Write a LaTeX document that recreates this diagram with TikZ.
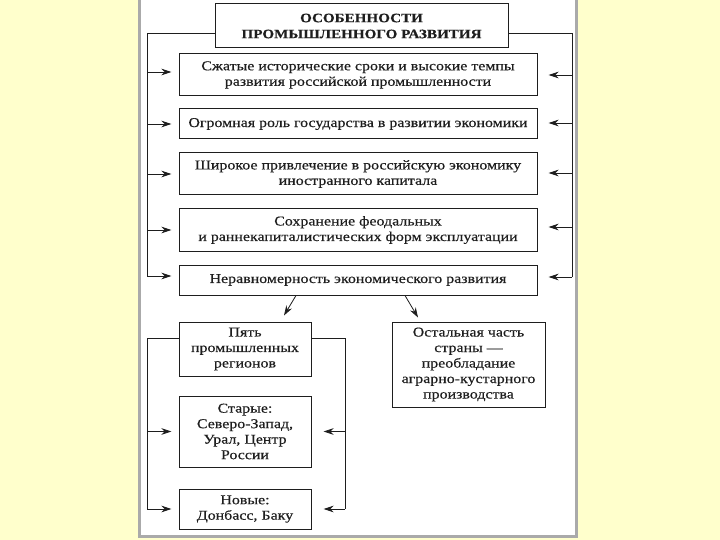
\documentclass[tikz,border=0pt]{standalone}
\usepackage{fontspec}
\setmainfont[FakeStretch=1.18,FakeBold=0.4]{Liberation Serif}
\usetikzlibrary{arrows.meta,calc}
\definecolor{bgyellow}{RGB}{255,255,204}
\definecolor{panelgrey}{RGB}{170,170,170}
\definecolor{inkc}{RGB}{30,30,30}
\tikzset{
  box/.style={draw=inkc, line width=1pt, fill=white, inner sep=0pt, align=center,
    font=\fontsize{13.5}{15.5}\selectfont, text=inkc},
  conn/.style={draw=inkc, line width=0.8pt},
  arr/.style={conn, -{Stealth[length=10pt,width=6.5pt]}},
}
\begin{document}
\begin{tikzpicture}[x=1pt,y=-1pt]
\useasboundingbox (0,0) rectangle (720,540);
\fill[bgyellow] (0,0) rectangle (720,540);
\draw[panelgrey, line width=3pt, fill=white] (139,-2) rectangle (576,536);

% title
\node[box, minimum width=293pt, minimum height=44pt,
      font=\fontsize{12.8}{16}\selectfont\bfseries] (title) at (361.5,26)
  {ОСОБЕННОСТИ\\ПРОМЫШЛЕННОГО РАЗВИТИЯ};

% feature boxes
\node[box, minimum width=358pt, minimum height=42pt] (b1) at (358,75)
  {Сжатые исторические сроки и высокие темпы\\развития российской промышленности};
\node[box, minimum width=358pt, minimum height=30pt] (b2) at (358,124)
  {Огромная роль государства в развитии экономики};
\node[box, minimum width=358pt, minimum height=42pt] (b3) at (358,174)
  {Широкое привлечение в российскую экономику\\иностранного капитала};
\node[box, minimum width=358pt, minimum height=42pt] (b4) at (358,230)
  {Сохранение феодальных\\и раннекапиталистических форм эксплуатации};
\node[box, minimum width=358pt, minimum height=30pt] (b5) at (358,280)
  {Неравномерность экономического развития};

% lower boxes
\node[box, minimum width=132pt, minimum height=54pt] (p5) at (245,349)
  {Пять\\промышленных\\регионов};
\node[box, minimum width=153pt, minimum height=85pt] (ost) at (468.5,364.5)
  {Остальная часть\\страны —\\преобладание\\аграрно-кустарного\\производства};
\node[box, minimum width=132pt, minimum height=71pt] (old) at (245,431.5)
  {Старые:\\Северо-Запад,\\Урал, Центр\\России};
\node[box, minimum width=132pt, minimum height=40pt] (new) at (245,509)
  {Новые:\\Донбасс, Баку};

% outer loops
\coordinate (L0) at (147,33);
\coordinate (R0) at (572,33);
\draw[conn] (title.west |- L0) -- (L0) -- (L0 |- {$(b5.west)+(0,-4)$});
\draw[conn] (title.east |- R0) -- (R0) -- (R0 |- {$(b5.east)+(0,-3)$});
\foreach \b/\dy in {b1/-3,b2/0,b3/0,b4/0,b5/-4}{
  \draw[arr, shorten >=7pt] (L0 |- {$(\b.west)+(0,\dy)$}) -- ($(\b.west)+(0,\dy)$);
}
\foreach \b/\dy in {b1/0,b2/-1,b3/-1,b4/-3,b5/-3}{
  \draw[arr, shorten >=11pt] (R0 |- {$(\b.east)+(0,\dy)$}) -- ($(\b.east)+(0,\dy)$);
}

% split arrows
\draw[arr] ($(b5.south)+(-62,0)$) -- ($(p5.north)+(39,-6)$);
\draw[arr] ($(b5.south)+(47,0)$) -- ($(ost.north)+(-50.5,-4)$);

% region loops
\coordinate (PL) at (147,338);
\coordinate (PR) at (345,338);
\draw[conn] (p5.west |- PL) -- (PL) -- (PL |- new.west);
\draw[conn] (p5.east |- PR) -- (PR) -- (PR |- new.east);
\draw[arr, shorten >=7pt] (PL |- old.west) -- (old.west);
\draw[arr, shorten >=7pt] (PL |- new.west) -- (new.west);
\draw[arr, shorten >=12pt] (PR |- old.east) -- (old.east);
\draw[arr, shorten >=12pt] (PR |- new.east) -- (new.east);
\end{tikzpicture}
\end{document}
